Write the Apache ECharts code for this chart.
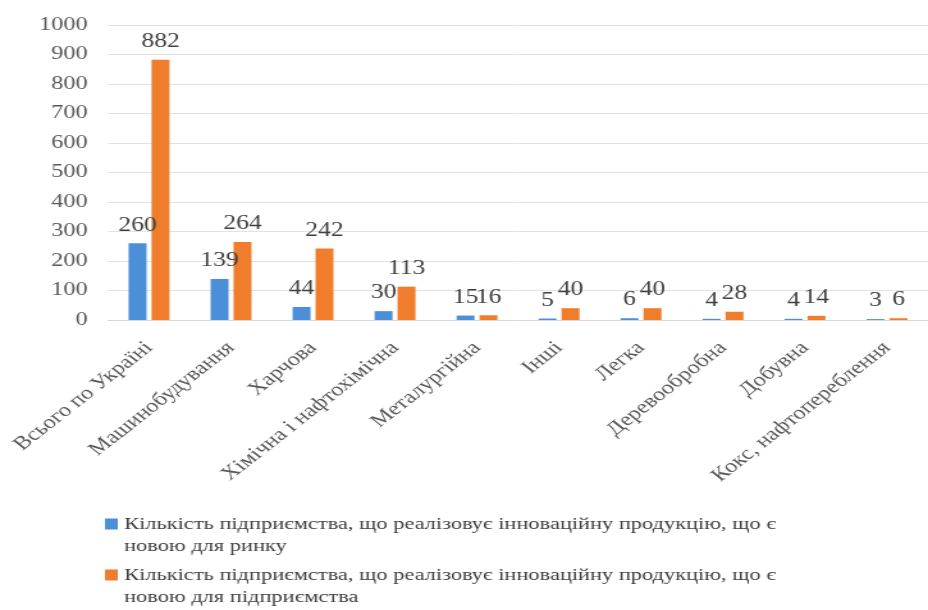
<!DOCTYPE html>
<html>
<head>
<meta charset="utf-8">
<script src="https://cdn.jsdelivr.net/npm/echarts@6/dist/echarts.min.js"></script>
<style>
  html, body { margin: 0; padding: 0; background: #fff; overflow: hidden; }
  #wrap { width: 928px; height: 610px; overflow: hidden; position: relative; }
  /* the chart is drawn narrow and widened horizontally */
  #chart { width: 725px; height: 610px; transform: scaleX(1.28); transform-origin: 0 0; }
</style>
</head>
<body>
<div id="wrap"><div id="chart"></div></div>
<script>
const categories = [
  'Всього по Україні',
  'Машинобудування',
  'Харчова',
  'Хімічна і нафтохімічна',
  'Металургійна',
  'Інші',
  'Легка',
  'Деревообробна',
  'Добувна',
  'Кокс, нафтопереблення'
];
const newForMarket = [260, 139, 44, 30, 15, 5, 6, 4, 4, 3];
const newForEnterprise = [882, 264, 242, 113, 16, 40, 40, 28, 14, 6];
const seriesNames = [
  'Кількість підприємства, що реалізовує інноваційну продукцію, що є новою для ринку',
  'Кількість підприємства, що реалізовує інноваційну продукцію, що є новою для підприємства'
];
const yTicks = { min: 0, max: 1000, interval: 100 };

const FONT = 'Liberation Serif';
const BLUE = '#4A8FD8';
const ORANGE = '#EF7D2C';

const wrapName = n => n.replace('що є ', 'що є\n');

// square marker sitting beside the first line of a two-line legend entry
const legendIcon = 'path://M0,0h10v11h-10z M9.99,32.99h0.01v0.01h-0.01z';

const legendBase = {
  orient: 'vertical',
  left: 82,
  padding: 0,
  icon: legendIcon,
  itemWidth: 10,
  itemHeight: 33,
  formatter: wrapName,
  textStyle: {
    fontFamily: FONT,
    fontSize: 17.5,
    color: '#404040',
    lineHeight: 22
  }
};

const barLabel = {
  show: true,
  position: 'top',
  distance: 8,
  fontFamily: FONT,
  fontSize: 20,
  color: '#404040'
};

const option = {
  animation: false,
  backgroundColor: '#fff',
  textStyle: { fontFamily: FONT },
  grid: { left: 84.4, top: 25, width: 652.3, height: 295, containLabel: false },
  legend: [
    Object.assign({}, legendBase, { data: [seriesNames[0]], top: 513 }),
    Object.assign({}, legendBase, { data: [seriesNames[1]], top: 564 })
  ],
  xAxis: {
    type: 'category',
    data: categories,
    axisLine: { show: true, lineStyle: { color: '#D9D9D9', width: 1 } },
    axisTick: { show: false },
    axisLabel: {
      interval: 0,
      rotate: 45,
      margin: 25,
      fontFamily: FONT,
      fontSize: 19,
      color: '#595959'
    }
  },
  yAxis: {
    type: 'value',
    min: yTicks.min,
    max: yTicks.max,
    interval: yTicks.interval,
    axisLine: { show: false },
    axisTick: { show: false },
    splitLine: { show: true, lineStyle: { color: '#E3E3E3', width: 1 } },
    axisLabel: {
      margin: 16,
      formatter: v => String(v),
      fontFamily: FONT,
      fontSize: 19,
      color: '#595959'
    }
  },
  series: [
    { name: seriesNames[0], type: 'bar', data: newForMarket, barWidth: 14, barGap: '28%',
      itemStyle: { color: BLUE }, label: barLabel },
    { name: seriesNames[1], type: 'bar', data: newForEnterprise, barWidth: 14, barGap: '28%',
      itemStyle: { color: ORANGE }, label: barLabel }
  ]
};

const chart = echarts.init(document.getElementById('chart'), null, { renderer: 'canvas' });
chart.setOption(option);
</script>
</body>
</html>
